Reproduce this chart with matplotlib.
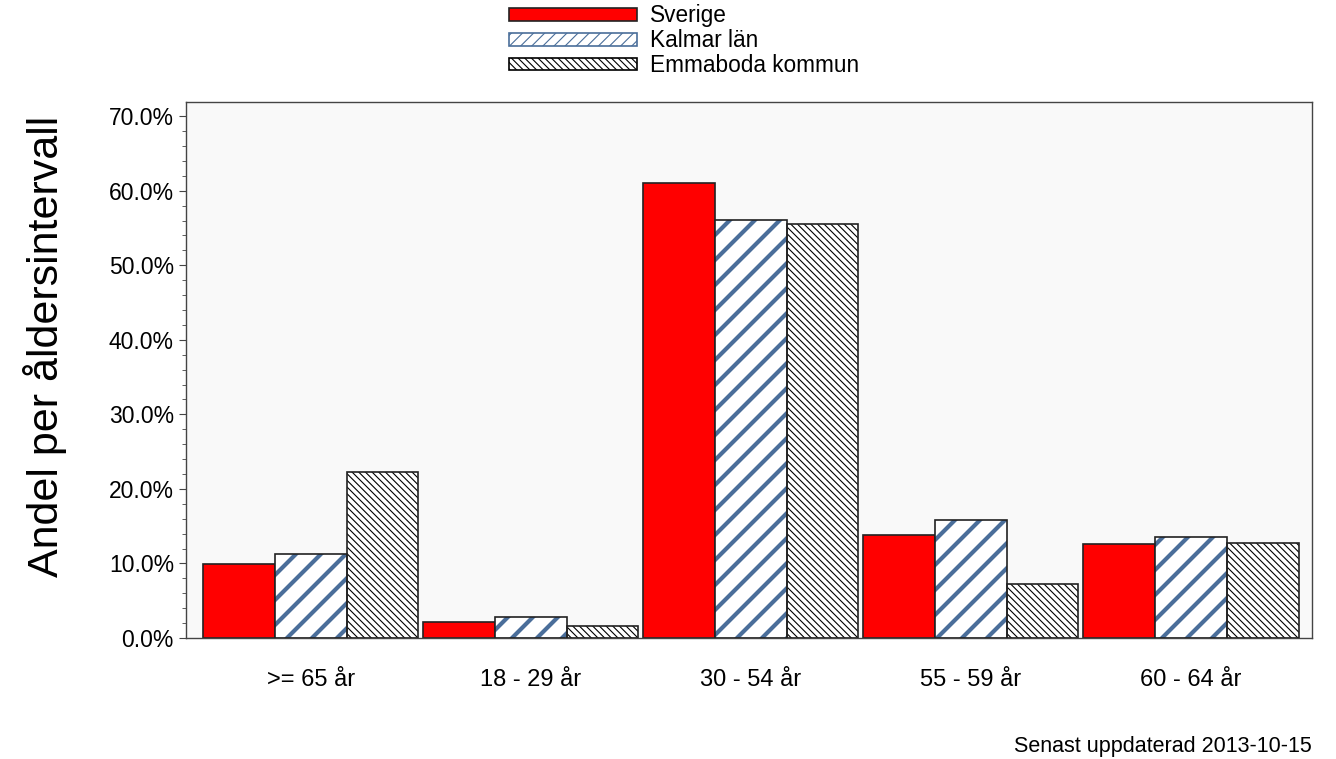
import numpy as np
import matplotlib
matplotlib.use('Agg')
import matplotlib.pyplot as plt
import matplotlib.hatch as mhatch
from matplotlib.ticker import MultipleLocator, FuncFormatter
from matplotlib.patches import Patch

plt.rcParams['font.family'] = ['Liberation Sans', 'DejaVu Sans']

categories = ['>= 65 år', '18 - 29 år', '30 - 54 år', '55 - 59 år', '60 - 64 år']
series_names = ['Sverige', 'Kalmar län', 'Emmaboda kommun']
sverige = [9.9, 2.1, 61.0, 13.8, 12.6]
kalmar = [11.3, 2.8, 56.1, 15.8, 13.5]
emmaboda = [22.3, 1.6, 55.5, 7.2, 12.7]


# diagonal stripes a bit denser than '/' ('k' = 8 lines per tile, even so it tiles)
class WideNorthEast(mhatch.NorthEastHatch):
    def __init__(self, hatch, density):
        self.num_lines = 8 * hatch.count('k')
        self.num_vertices = (self.num_lines + 1) * 2 if self.num_lines else 0


mhatch._hatch_types.append(WideNorthEast)

fig = plt.figure(figsize=(13.36, 7.59), dpi=100)
ax = fig.add_axes([0.139, 0.1594, 0.843, 0.7062])
ax.set_facecolor('#f9f9f9')

x = np.arange(len(categories))
w = 0.326
edge = '#222222'
blue = '#4a6e9a'

ax.bar(x - w, sverige, w, color='#ff0000', edgecolor=edge, linewidth=1.2, zorder=2)

plt.rcParams['hatch.linewidth'] = 3.0
ax.bar(x, kalmar, w, color='white', edgecolor=blue, hatch='k', linewidth=0, zorder=2)
ax.bar(x, kalmar, w, fill=False, edgecolor=edge, linewidth=1.2, zorder=3)

plt.rcParams['hatch.linewidth'] = 0.8
ax.bar(x + w, emmaboda, w, color='white', edgecolor='black', hatch='\\' * 5, linewidth=0, zorder=2)
ax.bar(x + w, emmaboda, w, fill=False, edgecolor=edge, linewidth=1.2, zorder=3)

ax.set_xlim(-0.568, 4.55)
ax.set_ylim(0, 71.9)
ax.yaxis.set_major_locator(MultipleLocator(10))
ax.yaxis.set_minor_locator(MultipleLocator(2))
ax.yaxis.set_major_formatter(FuncFormatter(lambda v, p: f'{v:.1f}%'))
ax.set_xticks(x)
ax.set_xticklabels(categories)
ax.tick_params(axis='x', length=0, pad=22, labelsize=17)
ax.tick_params(axis='y', which='major', length=5, labelsize=16.5, color='#444444')
ax.tick_params(axis='y', which='minor', length=3, color='#444444')
for s in ax.spines.values():
    s.set_color('#444444')
    s.set_linewidth(1.0)

fig.text(0.034, 0.543, 'Andel per åldersintervall', rotation=90, va='center', ha='center', fontsize=31)

plt.rcParams['hatch.linewidth'] = 2.0
h_sv = Patch(facecolor='#ff0000', edgecolor=edge, linewidth=1.2)
h_ka = Patch(facecolor='white', edgecolor=blue, hatch='///', linewidth=1.2)
plt.rcParams['hatch.linewidth'] = 0.8
h_em = Patch(facecolor='white', edgecolor='black', hatch='\\' * 5, linewidth=1.2)
fig.legend([h_sv, h_ka, h_em], series_names, loc='upper left', bbox_to_anchor=(0.3672, 1.018),
           frameon=False, fontsize=16.3, handlelength=5.65, handleheight=0.5,
           labelspacing=0.08, handletextpad=0.6, borderpad=0.3)

fig.text(0.982, 0.009, 'Senast uppdaterad 2013-10-15', ha='right', va='baseline', fontsize=15.5)

fig.savefig('out.png', dpi=100)
